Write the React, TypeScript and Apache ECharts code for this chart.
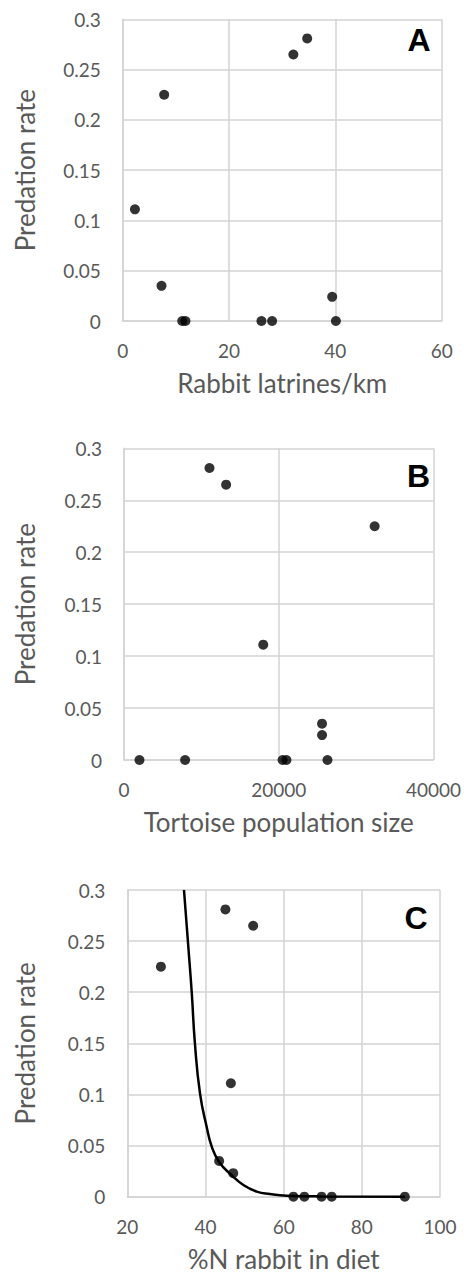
import React, { useEffect, useRef } from "react";
import * as echarts from "echarts";

// Panel A: rabbit latrines/km vs predation rate
const latrinesX = [2.3, 7.8, 7.3, 11.2, 11.8, 26.1, 28.1, 32.1, 34.7, 39.4, 40.1];
const latrinesY = [0.111, 0.225, 0.035, 0, 0, 0, 0, 0.265, 0.281, 0.024, 0];

// Panel B: tortoise population size vs predation rate
const tortoiseX = [2000, 7900, 11050, 13200, 18000, 20500, 21000, 25600, 25600, 26300, 32400];
const tortoiseY = [0, 0, 0.281, 0.265, 0.111, 0, 0, 0.035, 0.024, 0, 0.225];

// Panel C: %N rabbit in diet vs predation rate
const rabbitNX = [28.6, 45.1, 52.2, 46.5, 43.5, 47.1, 62.5, 65.3, 69.7, 72.3, 91.0];
const rabbitNY = [0.225, 0.281, 0.265, 0.111, 0.035, 0.023, 0, 0, 0, 0, 0];

// Panel C fitted curve
const curveX = [34.5, 35.6, 36.5, 37.3, 38.6, 40.3, 41.6, 43.5, 46.7, 49.7, 53.1, 56.5, 60.8, 70, 91];
const curveY = [0.3, 0.245, 0.199, 0.15, 0.101, 0.0685, 0.049, 0.034, 0.021, 0.0114, 0.005, 0.0026, 0.001, 0.0003, 0];

const panelLetters = ["A", "B", "C"];
const xTitles = ["Rabbit latrines/km", "Tortoise population size", "%N rabbit in diet"];
const yTitle = "Predation rate";

const GRID = "#d3d3d3";
const TXT = "#595959";
const FONT = "Lato";

function zip(xs: number[], ys: number[]) {
  return xs.map((x, i) => [x, ys[i]]);
}

export default function App() {
  const ref = useRef<HTMLDivElement>(null);
  useEffect(() => {
    document.body.style.margin = "0";
    const chart = echarts.init(ref.current!, null, { renderer: "svg" });
    const grids = [
      { left: 122.7, top: 19.3, width: 319, height: 301.7 },
      { left: 124, top: 448.3, width: 311, height: 311.7 },
      { left: 127.3, top: 890, width: 312.7, height: 306.7 },
    ];
    const xRanges = [
      { min: 0, max: 60, interval: 20 },
      { min: 0, max: 40000, interval: 20000 },
      { min: 20, max: 100, interval: 20 },
    ];
    const xNameGaps = [49, 49, 49];
    const yNameGaps = [84.7, 86, 89.3];
    const lineStyle = { color: GRID, width: 1.5 };
    const xAxis = xRanges.map((r, i) => ({
      type: "value",
      gridIndex: i,
      ...r,
      name: xTitles[i],
      nameLocation: "middle",
      nameGap: xNameGaps[i],
      nameTextStyle: { color: TXT, fontSize: 26, fontFamily: FONT },
      axisLine: { show: true, onZero: false, lineStyle },
      axisTick: { show: false },
      axisLabel: {
        color: TXT,
        fontSize: 19,
        fontFamily: FONT,
        margin: 20,
        formatter: (v: number) => String(v),
      },
      splitLine: { show: true, lineStyle },
    }));
    const yAxis = grids.map((_, i) => ({
      type: "value",
      gridIndex: i,
      min: 0,
      max: 0.3,
      interval: 0.05,
      name: yTitle,
      nameLocation: "middle",
      nameGap: yNameGaps[i],
      nameTextStyle: { color: TXT, fontSize: 26, fontFamily: FONT },
      axisLine: { show: true, lineStyle },
      axisTick: { show: false },
      axisLabel: { color: TXT, fontSize: 19, fontFamily: FONT, margin: 22 },
      splitLine: { show: true, lineStyle },
    }));
    const scatterData = [zip(latrinesX, latrinesY), zip(tortoiseX, tortoiseY), zip(rabbitNX, rabbitNY)];
    const series: any[] = scatterData.map((d, i) => ({
      type: "scatter",
      xAxisIndex: i,
      yAxisIndex: i,
      data: d,
      symbol: "circle",
      symbolSize: 10,
      itemStyle: { color: "#000" },
      z: 3,
    }));
    series.push({
      type: "line",
      xAxisIndex: 2,
      yAxisIndex: 2,
      data: zip(curveX, curveY),
      smooth: 0.5,
      showSymbol: false,
      symbol: "none",
      lineStyle: { color: "#000", width: 2.5 },
      z: 2,
    });
    const letterPos = [
      [419, 40],
      [418.5, 476],
      [416, 918],
    ];
    chart.setOption({
      animation: false,
      grid: grids,
      xAxis,
      yAxis,
      series,
      graphic: panelLetters.map((t, i) => ({
        type: "text",
        x: letterPos[i][0],
        y: letterPos[i][1],
        style: {
          text: t,
          fill: "#000",
          font: "bold 32px 'Liberation Sans', Arial, sans-serif",
          textAlign: "center",
          textVerticalAlign: "middle",
        },
        z: 10,
      })),
    });
    return () => chart.dispose();
  }, []);
  return <div ref={ref} style={{ width: 464, height: 1276 }} />;
}
